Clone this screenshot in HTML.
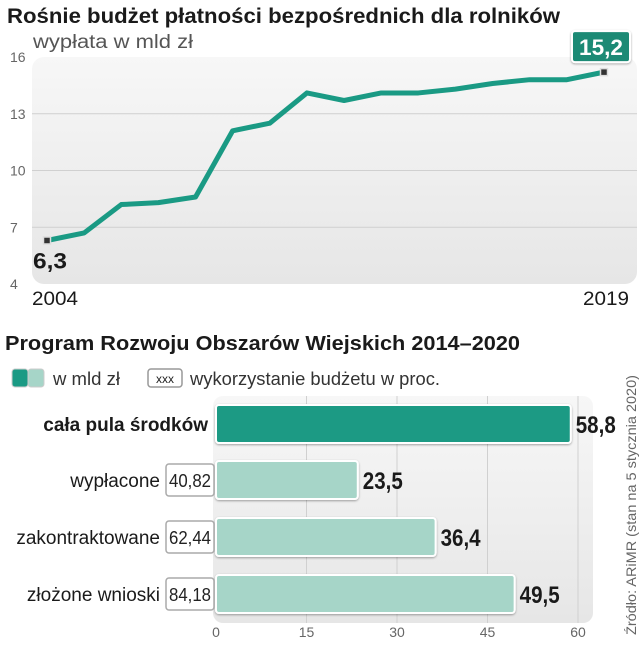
<!DOCTYPE html>
<html><head><meta charset="utf-8"><style>
body{margin:0;background:#fff;}
svg text{font-family:"Liberation Sans",sans-serif;}
</style></head><body>
<svg width="643" height="640" viewBox="0 0 643 640">
<defs>
<linearGradient id="pg" x1="0" y1="0" x2="0" y2="1"><stop offset="0" stop-color="#f7f7f7"/><stop offset="1" stop-color="#e6e6e6"/></linearGradient>
<filter id="sh" x="-5%" y="-20%" width="110%" height="150%"><feDropShadow dx="0" dy="1" stdDeviation="1" flood-color="#000" flood-opacity="0.35"/></filter>
</defs>
<text x="7" y="23" font-size="21" font-weight="bold" fill="#1a1a1a" textLength="553" lengthAdjust="spacingAndGlyphs">Rośnie budżet płatności bezpośrednich dla rolników</text>
<text x="33" y="48" font-size="19" fill="#555" textLength="160" lengthAdjust="spacingAndGlyphs">wypłata w mld zł</text>
<rect x="32" y="57" width="605" height="227" rx="12" fill="url(#pg)"/>
<g id="lineGrid"></g>
<g id="lineMarks"></g>
<text x="32" y="305" font-size="19" fill="#1a1a1a" textLength="46" lengthAdjust="spacingAndGlyphs">2004</text>
<text x="583" y="305" font-size="19" fill="#1a1a1a" textLength="46" lengthAdjust="spacingAndGlyphs">2019</text>

<text x="5" y="350" font-size="20" font-weight="bold" fill="#1a1a1a" textLength="515" lengthAdjust="spacingAndGlyphs">Program Rozwoju Obszarów Wiejskich 2014–2020</text>
<g>
<rect x="12" y="369" width="16" height="18" rx="3" fill="#1a9a84" stroke="#ccc"/>
<rect x="28" y="369" width="16" height="18" rx="3" fill="#a6d5c8" stroke="#ccc"/>
<text x="53" y="385" font-size="18" fill="#333" textLength="67" lengthAdjust="spacingAndGlyphs">w mld zł</text>
</g>
<g>
<rect x="148" y="369" width="34" height="18" rx="3" fill="#fff" stroke="#999" stroke-width="1.5"/>
<text x="165" y="383" font-size="12" fill="#222" text-anchor="middle">xxx</text>
<text x="190" y="385" font-size="18" fill="#333" textLength="250" lengthAdjust="spacingAndGlyphs">wykorzystanie budżetu w proc.</text>
</g>
<rect x="213" y="396" width="380" height="227" rx="10" fill="url(#pg)"/>
<g id="barGrid"></g>
<g id="barMarks"></g>
<text transform="translate(636,635) rotate(-90)" font-size="14" fill="#666" textLength="260" lengthAdjust="spacingAndGlyphs">Źródło: ARiMR (stan na 5 stycznia 2020)</text>
</svg>
<script>
const years = [2004,2005,2006,2007,2008,2009,2010,2011,2012,2013,2014,2015,2016,2017,2018,2019];
const payments = [6.3,6.7,8.2,8.3,8.6,12.1,12.5,14.1,13.7,14.1,14.1,14.3,14.6,14.8,14.8,15.2];
const yTicks = [4,7,10,13,16];

const barCats = ["cała pula środków","wypłacone","zakontraktowane","złożone wnioski"];
const barValues = [58.8,23.5,36.4,49.5];
const barPercents = [null,"40,82","62,44","84,18"];
const xTicks = [0,15,30,45,60];

const NS="http://www.w3.org/2000/svg";
function mk(tag,attrs,parent,txt){const e=document.createElementNS(NS,tag);for(const k in attrs)e.setAttribute(k,attrs[k]);if(txt!==undefined)e.textContent=txt;parent.appendChild(e);return e;}
const fmt=v=>String(v).replace('.',',');

// line chart
const lx=y=>47+(y-years[0])/(years[years.length-1]-years[0])*(604-47);
const ly=v=>284-(v-4)/12*227;
const lg=document.getElementById('lineGrid');
yTicks.forEach(t=>{
  if(t>4&&t<16){const l=mk('line',{x1:32,x2:637,y1:ly(t),y2:ly(t),stroke:'#d0d0d0','stroke-width':1},lg);
  
  }
  const tx=mk('text',{x:10,y:ly(t)+5,'font-size':14,fill:'#666'},lg,t);
  
  
});
const lm=document.getElementById('lineMarks');
const pl=mk('polyline',{points:years.map((y,i)=>lx(y)+','+ly(payments[i])).join(' '),fill:'none',stroke:'#1a9a84','stroke-width':5,'stroke-linejoin':'round'},lm);


[0,years.length-1].forEach(i=>{
  const m=mk('rect',{x:lx(years[i])-3.5,y:ly(payments[i])-3.5,width:7,height:7,fill:'#333',stroke:'#ddd','stroke-width':1.5},lm);
  
  
});
const first=mk('text',{x:lx(years[0])-14,y:ly(payments[0])+28,'font-size':22,'font-weight':'bold',fill:'#1a1a1a',textLength:34,lengthAdjust:'spacingAndGlyphs'},lm,fmt(payments[0]));


const li=years.length-1;
const bx=mk('rect',{x:lx(years[li])-32,y:ly(payments[li])-41,width:58,height:31,rx:3,fill:'#1a8a74',stroke:'#fff','stroke-width':2,filter:'url(#sh)'},lm);


const last=mk('text',{x:lx(years[li])-3,y:ly(payments[li])-17,'font-size':22,'font-weight':'bold',fill:'#fff','text-anchor':'middle',textLength:44,lengthAdjust:'spacingAndGlyphs'},lm,fmt(payments[li]));



// bar chart
const bxs=v=>216+v/60*(578-216);
const rowY=[405,461,518,575], bh=38;
const bg=document.getElementById('barGrid');
xTicks.forEach(t=>{
  if(t>0){const l=mk('line',{x1:bxs(t),x2:bxs(t),y1:396,y2:623,stroke:'#d0d0d0'},bg);
  
  }
  const tx=mk('text',{x:bxs(t),y:637,'font-size':14,fill:'#666','text-anchor':'middle'},bg,t);
  
  
});
const bm=document.getElementById('barMarks');
barCats.forEach((c,i)=>{
  const y=rowY[i];
  const r=mk('rect',{x:bxs(0),y:y,width:bxs(barValues[i])-bxs(0),height:bh,rx:3,fill:i===0?'#1a9a84':'#a6d5c8',stroke:'#fff','stroke-width':2,filter:'url(#sh)'},bm);
  
  
  const v=mk('text',{x:bxs(barValues[i])+5,y:y+bh/2+9,'font-size':24,'font-weight':'bold',fill:'#1a1a1a',textLength:40,lengthAdjust:'spacingAndGlyphs'},bm,fmt(barValues[i]));
  
  
  let labelRight=208;
  if(barPercents[i]){
    const pb=mk('rect',{x:166,y:y+3,width:48,height:bh-6,rx:3,fill:'#fff',stroke:'#aaa','stroke-width':1.5},bm);
    
    
    const pt=mk('text',{x:190,y:y+bh/2+7,'font-size':18,fill:'#222','text-anchor':'middle',textLength:42,lengthAdjust:'spacingAndGlyphs'},bm,barPercents[i]);
    
    
    labelRight=160;
  }
  const cl=mk('text',{x:labelRight,y:y+bh/2+7,'font-size':19,'font-weight':i===0?'bold':'normal',fill:'#1a1a1a','text-anchor':'end'},bm,c);
  
  
});
</script>
</body></html>
